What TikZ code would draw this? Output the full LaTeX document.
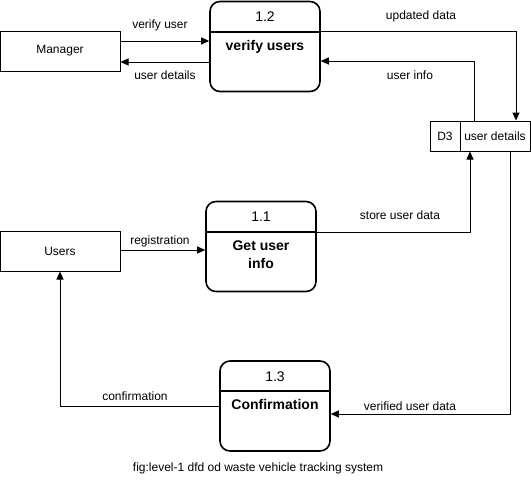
\documentclass[tikz,border=0pt]{standalone}
\usepackage{fontspec}
\setmainfont{Liberation Sans}
\usetikzlibrary{arrows.meta}

\tikzset{
  entity/.style={draw, line width=1pt, minimum width=120pt, minimum height=40pt, font=\fontsize{12}{14}\selectfont},
  procbox/.style={draw, line width=1.6pt, rounded corners=10pt, minimum width=110pt, minimum height=90pt},
  hdr/.style={font=\fontsize{14}{16}\selectfont},
  ttl/.style={font=\bfseries\fontsize{14}{18}\selectfont, align=center, anchor=north},
  store/.style={draw, line width=1pt, minimum width=100pt, minimum height=30pt},
  flow/.style={line width=1pt, -{Triangle[length=8pt,width=7pt]}},
  lbl/.style={font=\fontsize{12}{14}\selectfont},
}

\begin{document}
\begin{tikzpicture}[x=1pt, y=-1pt]
\useasboundingbox (0,0) rectangle (531,485);

% external entities
\node[entity] (man) at (60,51) {Manager};
\node[entity] (users) at (60,251) {Users};

% process 1.2
\node[procbox] (p12) at (265,46.5) {};
\draw[line width=1.6pt] (p12.west |- 0,32) -- (p12.east |- 0,32);
\node[hdr] (n12) at (265,17) {1.2};
\node[ttl] (t12) at (265,37) {verify users};

% process 1.1
\node[procbox] (p11) at (261,246.5) {};
\draw[line width=1.6pt] (p11.west |- 0,232) -- (p11.east |- 0,232);
\node[hdr] (n11) at (261,217) {1.1};
\node[ttl] (t11) at (261,237) {Get user\\info};

% process 1.3
\node[procbox] (p13) at (275,406) {};
\draw[line width=1.6pt] (p13.west |- 0,391) -- (p13.east |- 0,391);
\node[hdr] (n13) at (275,377) {1.3};
\node[ttl] (t13) at (275,396) {Confirmation};

% data store D3
\node[store] (d3) at (480,136) {};
\draw[line width=1pt] (460,0 |- d3.north) -- (460,0 |- d3.south);
\node[lbl] (d3id) at (445,136) {D3};
\node[lbl] (d3nm) at (495,136) {user details};

% flows
\draw[flow] (man.east |- 0,41) -- (p12.west |- 0,41);
\node[lbl] (lvu) at (160,25) {verify user};
\draw[flow] (p12.west |- 0,62) -- (man.east |- 0,62);
\node[lbl] (lud) at (165,75) {user details};

\draw[flow] (p12.east |- 0,31) -| (516,0 |- d3.north);
\node[lbl] (lupd) at (421,16) {updated data};
\draw[flow] (474,0 |- d3.north) |- (p12.east |- 0,61);
\node[lbl] (lui) at (410,75) {user info};

\draw[flow] (users.east |- 0,250) -- (p11.west |- 0,250);
\node[lbl] (lreg) at (160,241) {registration};
\draw[flow] (p11.east |- 0,232) -| (470,0 |- d3.south);
\node[lbl] (lsud) at (400,215) {store user data};

\draw[flow] (510,0 |- d3.south) |- (p13.east |- 0,414);
\node[lbl] (lvud) at (410,406) {verified user data};
\draw[flow] (p13.west |- 0,406) -| (users.south);
\node[lbl] (lconf) at (135,396) {confirmation};

% caption
\node[lbl] (cap) at (258,468) {fig:level-1 dfd od waste vehicle tracking system};
\end{tikzpicture}
\end{document}
